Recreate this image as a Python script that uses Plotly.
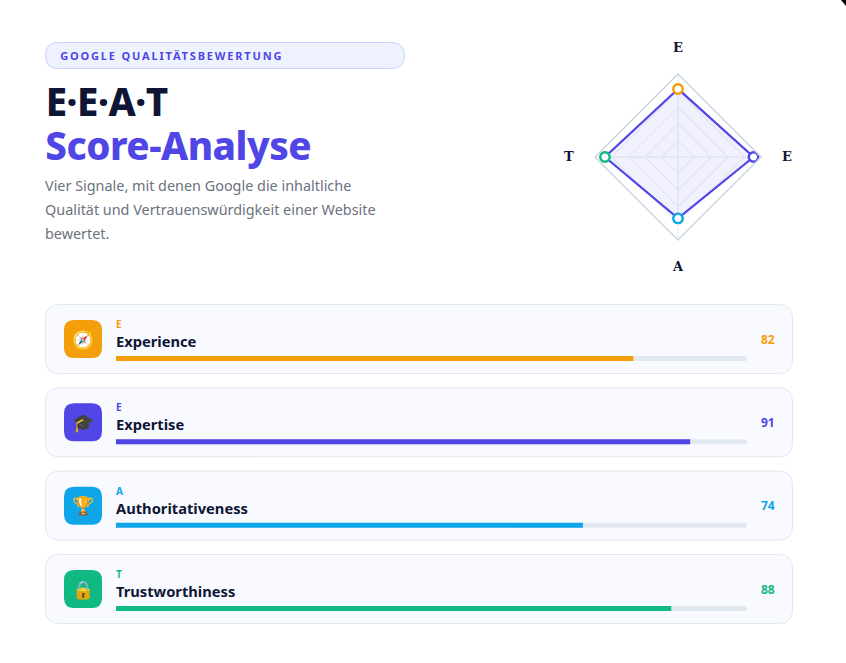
#!/usr/bin/env python3
"""E-E-A-T score card: radar top right, four score bars below."""
import plotly.graph_objects as go

W = 846
H = 663

# --------------------------------------------------------------- data
letters = ["E", "E", "A", "T"]
names = ["Experience", "Expertise", "Authoritativeness", "Trustworthiness"]
scores = [82, 91, 74, 88]
colors = ["#f59e0b", "#4f46e5", "#0ea5e9", "#10b981"]
icons = ["\U0001F9ED", "\U0001F393", "\U0001F3C6", "\U0001F512"]
rings = [20, 40, 60, 80, 100]
desc_lines = [
    "Vier Signale, mit denen Google die inhaltliche",
    "Qualität und Vertrauenswürdigkeit einer Website",
    "bewertet.",
]

FONT = "Noto Sans"
INK = "#0f1535"
INDIGO = "#4f46e5"
CARD_TOPS = [304.5, 387.83, 471.17, 554.5]


def px(x):
    return x / W


def py(y):
    return 1 - y / H


def round_rect(x0, y0, x1, y1, r):
    """Abgerundetes Rechteck als SVG-Pfad, Pixel von oben links."""
    return (
        f"M {px(x0 + r)} {py(y0)} L {px(x1 - r)} {py(y0)} "
        f"Q {px(x1)} {py(y0)} {px(x1)} {py(y0 + r)} L {px(x1)} {py(y1 - r)} "
        f"Q {px(x1)} {py(y1)} {px(x1 - r)} {py(y1)} L {px(x0 + r)} {py(y1)} "
        f"Q {px(x0)} {py(y1)} {px(x0)} {py(y1 - r)} L {px(x0)} {py(y0 + r)} "
        f"Q {px(x0)} {py(y0)} {px(x0 + r)} {py(y0)} Z"
    )


def label(x, y, text, size, color, weight="normal", anchor="left", family=FONT):
    return dict(
        x=px(x), y=py(y), xref="paper", yref="paper", text=text, showarrow=False,
        xanchor=anchor, yanchor="middle", borderpad=0,
        font=dict(family=family, size=size, color=color, weight=weight),
    )


fig = go.Figure()

# Balken: Spur und Wert auf gemeinsamer Achse 0-100
fig.add_trace(go.Bar(
    x=[100] * 4, y=names, orientation="h", width=0.06,
    marker=dict(color="#e2e8f0", line_width=0), hoverinfo="skip",
))
fig.add_trace(go.Bar(
    x=scores, y=names, orientation="h", width=0.06,
    marker=dict(color=colors, line_width=0),
))

# Radar
fig.add_trace(go.Scatterpolar(
    r=scores + scores[:1], theta=names + names[:1],
    mode="lines", fill="toself", fillcolor="rgba(79,70,229,0.08)",
    line=dict(color=INDIGO, width=2.2), hoverinfo="skip",
))
fig.add_trace(go.Scatterpolar(
    r=scores, theta=names, mode="markers",
    marker=dict(size=9.5, color="white", line=dict(color=colors, width=2.4)),
))

# --------------------------------------------------------------- shapes
shapes = [
    dict(type="path", xref="paper", yref="paper", layer="below",
         path=round_rect(45.5, 42.5, 404.5, 68.5, 13),
         fillcolor="#eef2ff", line=dict(color="#c7d2fe", width=1)),
    # Ecke des Screenshots
    dict(type="path", xref="paper", yref="paper", layer="above",
         path=f"M {px(841)} {py(0)} L {px(846)} {py(0)} L {px(846)} {py(6)} Z",
         fillcolor="#000000", line_width=0),
]
annotations = [
    label(171, 55.5, "GOOGLE QUALITÄTSBEWERTUNG", 11, INDIGO, "bold", "center"),
    label(106.5, 101, "E·E·A·T", 38.5, INK, 800, "center"),
    label(178, 145, "Score-Analyse", 38.5, INDIGO, 800, "center"),
]
for i, line in enumerate(desc_lines):
    annotations.append(label(44, 185.5 + 24 * i, line, 14.4, "#6b7280"))

# Radar-Beschriftung
for x, y, letter in zip([678, 787, 678, 568.5], [47.5, 156, 266, 156], letters):
    annotations.append(label(x, y, letter, 13, INK, "bold", "center", "DejaVu Serif"))

for i, top in enumerate(CARD_TOPS):
    shapes.append(dict(
        type="path", xref="paper", yref="paper", layer="below",
        path=round_rect(45.5, top, 792.5, top + 69, 14),
        fillcolor="#f8faff", line=dict(color="#e2e8f0", width=1),
    ))
    shapes.append(dict(
        type="path", xref="paper", yref="paper", layer="below",
        path=round_rect(64, top + 15.5, 102, top + 53.5, 10),
        fillcolor=colors[i], line_width=0,
    ))
    annotations.append(label(83, top + 34.5, icons[i], 18, "#000000", anchor="center",
                             family="Noto Color Emoji"))
    annotations.append(label(115, top + 19.5, letters[i], 10, colors[i], "bold"))
    annotations.append(label(115, top + 36.5, names[i], 14.7, INK, "bold"))
    annotations.append(label(776, top + 34.5, str(scores[i]), 12, colors[i], "bold", "right"))

fig.update_layout(
    width=W, height=H, margin=dict(l=0, r=0, t=0, b=0),
    paper_bgcolor="white", plot_bgcolor="rgba(0,0,0,0)",
    showlegend=False, barmode="overlay", barcornerradius=3,
    shapes=shapes, annotations=annotations,
    xaxis=dict(domain=[px(116), px(747)], range=[0, 100], visible=False, fixedrange=True),
    yaxis=dict(domain=[py(650.17), py(316.83)], categoryorder="array", categoryarray=names,
               range=[3.5, -0.5], visible=False, fixedrange=True),
    polar=dict(
        domain=dict(x=[px(595), px(761)], y=[py(240), py(74)]),
        bgcolor="rgba(0,0,0,0)",
        gridshape="linear",
        angularaxis=dict(
            type="category", categoryorder="array", categoryarray=names,
            rotation=90, direction="clockwise", showticklabels=False, ticks="",
            gridcolor="#e6eaf6", linecolor="#cbd5e1", linewidth=1.5, gridwidth=1.2,
        ),
        radialaxis=dict(
            range=[0, 100], tickmode="array", tickvals=rings, showticklabels=False,
            ticks="", showline=False, gridcolor="#e6eaf6", gridwidth=1.2,
        ),
    ),
)

# Seitenrand weg, Laufweite der Überschriften wie im Original
post = """
document.body.style.margin = '0';
document.querySelectorAll('.annotation-text').forEach(function (t) {
  var s = t.textContent;
  if (s.indexOf('GOOGLE') === 0) t.style.letterSpacing = '1.83px';
  if (s.indexOf('E·E') === 0 || s.indexOf('Score') === 0) t.style.letterSpacing = '-0.5px';
});
"""
fig.write_html("out.html", post_script=post, config=dict(displayModeBar=False))
